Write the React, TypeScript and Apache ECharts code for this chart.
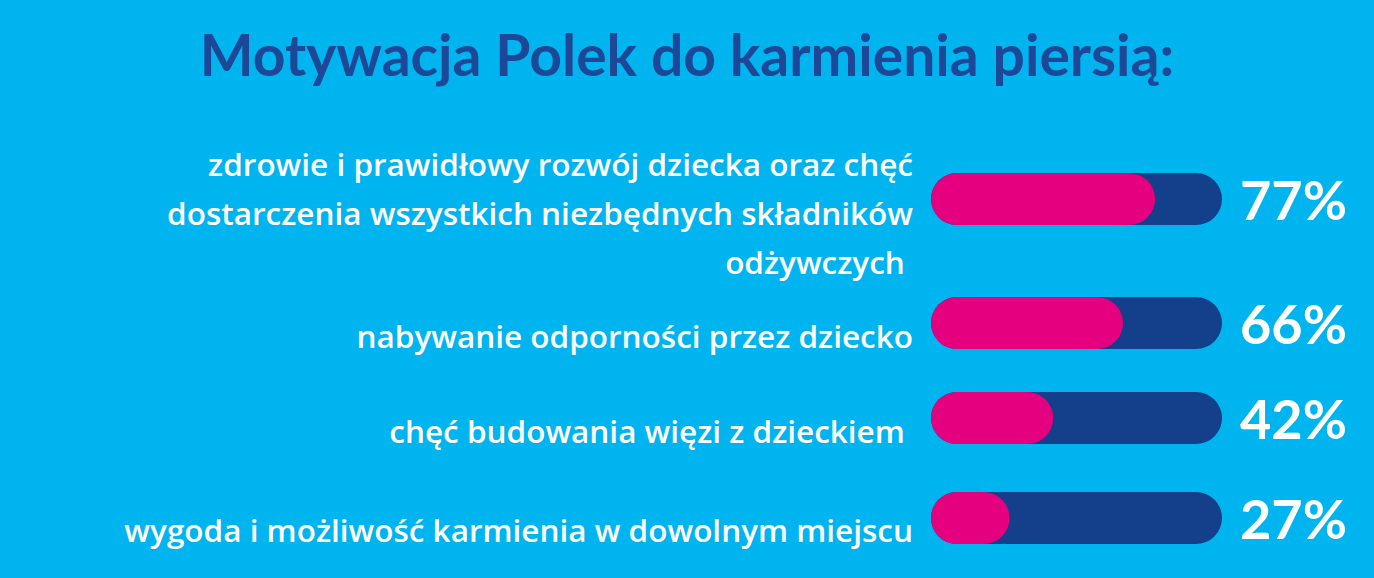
import React, { useEffect, useRef } from "react";
import * as echarts from "echarts";

const title = "Motywacja Polek do karmienia piersią:";
const categories = [
  "zdrowie i prawidłowy rozwój dziecka oraz chęć\ndostarczenia wszystkich niezbędnych składników\nodżywczych ",
  "nabywanie odporności przez dziecko",
  "chęć budowania więzi z dzieckiem ",
  "wygoda i możliwość karmienia w dowolnym miejscu",
];
const values = [77, 66, 42, 27];
const fullScale = 100;

const rowTops = [173, 297, 392, 492];
const labelPadTop = [27, 24, 24, 22];

const BG = "#00b5ef";
const NAVY = "#133f8b";
const PINK = "#e4007e";
const TITLE_COLOR = "#1c4897";
const TITLE_FONT = "Lato, 'Open Sans', sans-serif";
const LABEL_FONT = "'Open Sans', Lato, sans-serif";

export default function App() {
  const ref = useRef<HTMLDivElement>(null);
  useEffect(() => {
    if (!ref.current) return;
    const chart = echarts.init(ref.current, null, { renderer: "svg" });
    const grids: any[] = [];
    const xAxes: any[] = [];
    const yAxes: any[] = [];
    const series: any[] = [];
    categories.forEach((cat, i) => {
      grids.push({ left: 931, width: 291, top: rowTops[i], height: 52 });
      xAxes.push({ type: "value", gridIndex: i, min: 0, max: fullScale, show: false });
      yAxes.push({
        type: "category",
        gridIndex: i,
        data: [cat],
        axisLine: { show: false },
        axisTick: { show: false },
        splitLine: { show: false },
        axisLabel: {
          margin: 18,
          align: "right",
          padding: [labelPadTop[i], 0, 0, 0],
          formatter: (v: string) =>
            v
              .split("\n")
              .map((l) => `{t|${l}}`)
              .join("\n"),
          rich: {
            t: {
              color: "#ffffff",
              fontSize: 31.5,
              fontWeight: 600,
              fontFamily: LABEL_FONT,
              lineHeight: 49,
              align: "right",
            },
          },
        },
      });
      series.push({
        type: "bar",
        xAxisIndex: i,
        yAxisIndex: i,
        data: [fullScale],
        barWidth: 52,
        silent: true,
        itemStyle: { color: NAVY, borderRadius: 26 },
        label: {
          show: true,
          position: "right",
          distance: 18,
          formatter: values[i] + "%",
          color: "#ffffff",
          fontSize: 54,
          fontWeight: "bold",
          fontFamily: TITLE_FONT,
        },
        z: 2,
      });
      series.push({
        type: "bar",
        xAxisIndex: i,
        yAxisIndex: i,
        data: [values[i]],
        barWidth: 52,
        barGap: "-100%",
        silent: true,
        itemStyle: { color: PINK, borderRadius: 26 },
        z: 3,
      });
    });
    chart.setOption({
      animation: false,
      backgroundColor: BG,
      title: {
        text: title,
        left: "center",
        top: 20,
        textStyle: {
          color: TITLE_COLOR,
          fontSize: 57,
          fontWeight: "bold",
          fontFamily: TITLE_FONT,
        },
      },
      grid: grids,
      xAxis: xAxes,
      yAxis: yAxes,
      series,
    });
    return () => chart.dispose();
  }, []);
  return (
    <div
      ref={ref}
      style={{ position: "fixed", left: 0, top: 0, width: 1374, height: 578 }}
    />
  );
}
